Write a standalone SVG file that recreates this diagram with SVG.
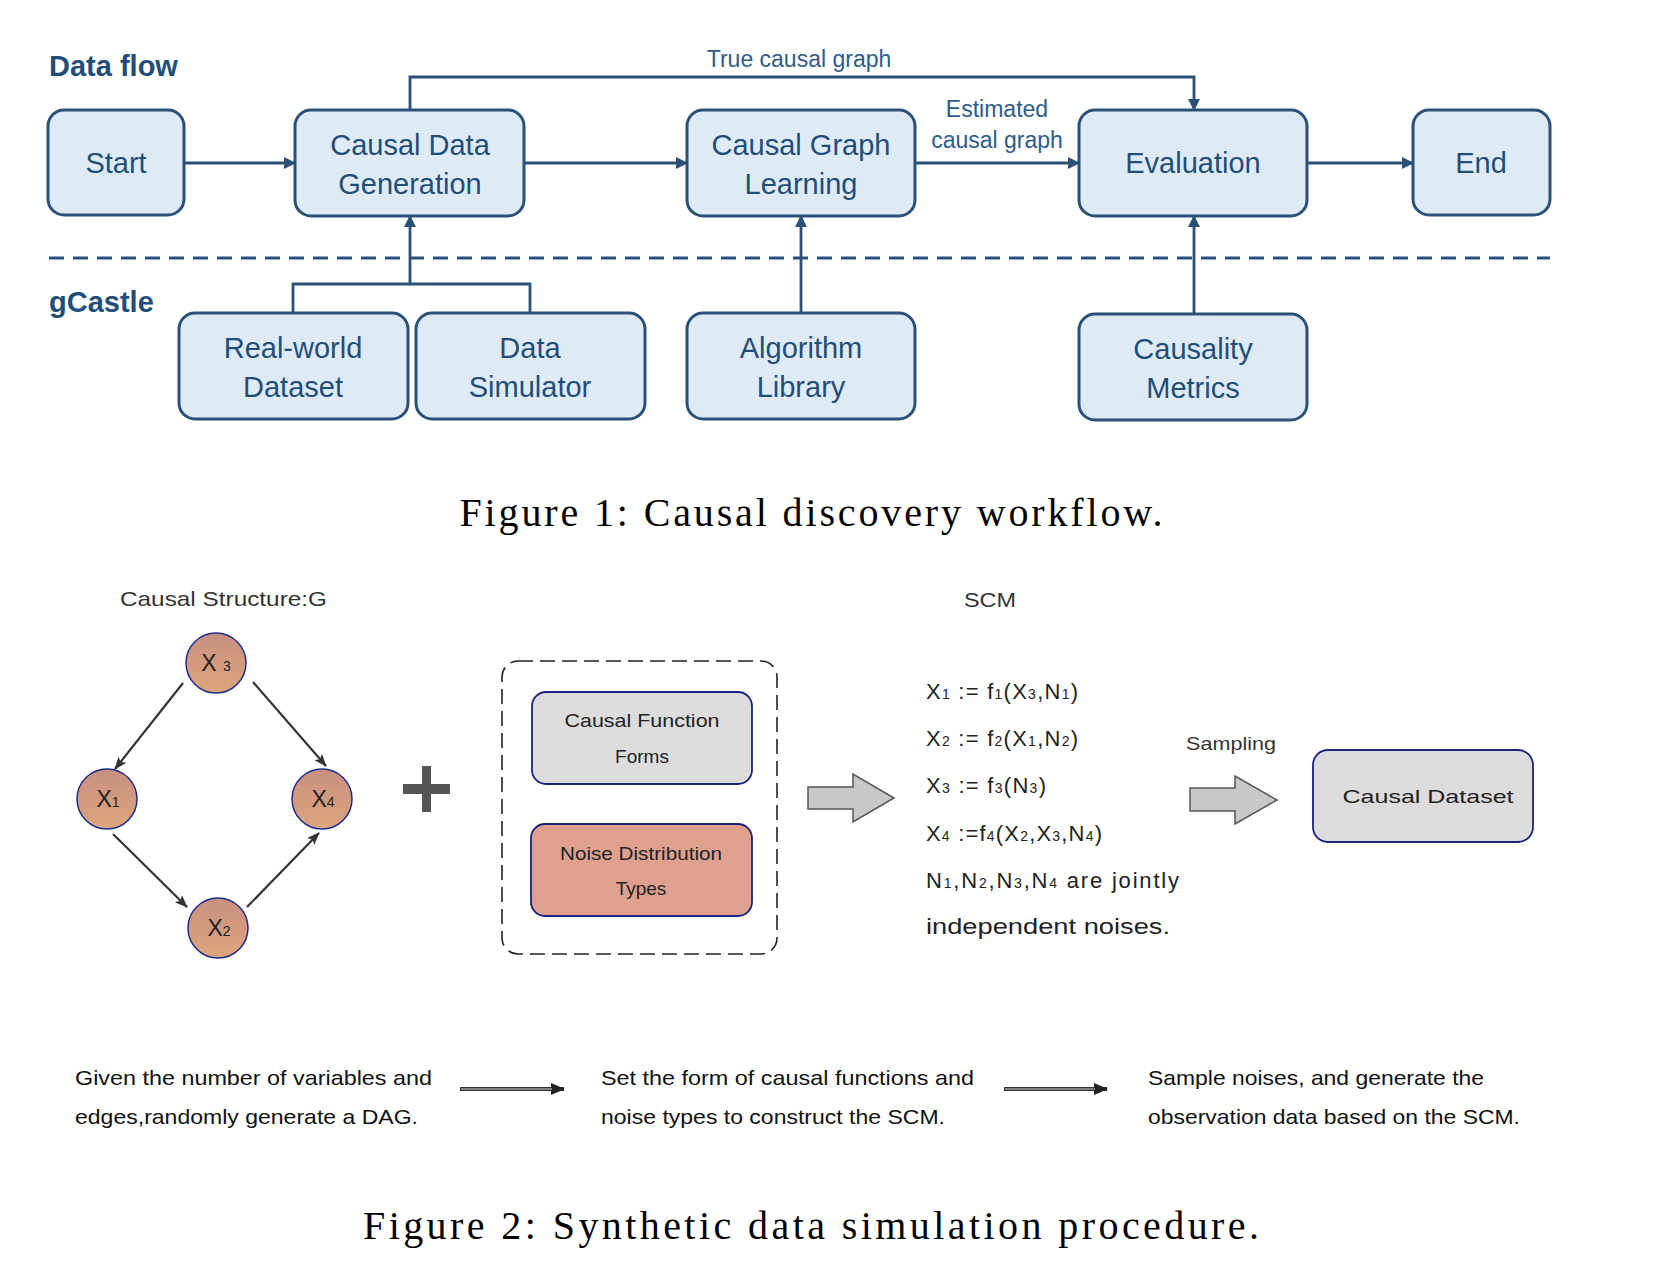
<svg xmlns="http://www.w3.org/2000/svg" width="1660" height="1284" viewBox="0 0 1660 1284">
<style>
.bg{fill:#ffffff}
.box{fill:#deebf7;stroke:#2b5179;stroke-width:3}
.bt{font-family:"Liberation Sans",Arial,sans-serif;font-size:29px;fill:#1f4e79;text-anchor:middle}
.sec{font-family:"Liberation Sans",Arial,sans-serif;font-size:29px;font-weight:bold;fill:#1f4e79}
.lbl{font-family:"Liberation Sans",Arial,sans-serif;font-size:23px;fill:#2e5c8a;text-anchor:middle}
.con{fill:none;stroke:#2b5179;stroke-width:2.8}
.dash{fill:none;stroke:#2b5179;stroke-width:3;stroke-dasharray:15 9}
.cap{font-family:"Liberation Serif","Times New Roman",serif;font-size:40px;fill:#000;text-anchor:middle}
.g2{font-family:"Liberation Sans",Arial,sans-serif;fill:#333}
.circ{fill:url(#cg);stroke:#1d2d8c;stroke-width:1.5}
.xl{font-family:"Liberation Sans",Arial,sans-serif;font-size:23px;fill:#222;text-anchor:middle}
.sub{font-size:14px}
.dagc{fill:none;stroke:#333;stroke-width:2.2}
.inbox{stroke:#1a237e;stroke-width:1.8}
.it{font-family:"Liberation Sans",Arial,sans-serif;font-size:19px;fill:#222;text-anchor:middle}
.eq{font-family:"Liberation Sans",Arial,sans-serif;font-size:22px;fill:#222}
.blk{fill:#c8c8c8;stroke:#555;stroke-width:1.5}
.desc{font-family:"Liberation Sans",Arial,sans-serif;font-size:21px;fill:#111}
.barr{fill:none;stroke:#333;stroke-width:4}
.barr2{fill:none;stroke:#999;stroke-width:1.5}
</style>
<defs>
<marker id="ah" markerUnits="userSpaceOnUse" markerWidth="12" markerHeight="12" refX="11" refY="6" orient="auto">
<path d="M0,0 L12,6 L0,12 z" fill="#2b5179"/>
</marker>
<marker id="dah" markerUnits="userSpaceOnUse" markerWidth="13" markerHeight="10" refX="12" refY="5" orient="auto">
<path d="M0,0 L13,5 L0,10 L3,5 z" fill="#333"/>
</marker>
<marker id="bah" markerUnits="userSpaceOnUse" markerWidth="14" markerHeight="12" refX="13" refY="6" orient="auto">
<path d="M0,0 L14,6 L0,12 z" fill="#222"/>
</marker>
<linearGradient id="cg" x1="0" y1="0" x2="0" y2="1">
<stop offset="0" stop-color="#c78f80"/>
<stop offset="1" stop-color="#dca67c"/>
</linearGradient>
</defs>
<rect class="bg" x="0" y="0" width="1660" height="1284"/>

<!-- Figure 1 -->
<text class="sec" x="49" y="76">Data flow</text>
<text class="sec" x="49" y="312">gCastle</text>
<line class="dash" x1="49" y1="258" x2="1550" y2="258"/>

<g id="connectors-fig1">
<line class="con" x1="184" y1="163" x2="295" y2="163" marker-end="url(#ah)"/>
<line class="con" x1="524" y1="163" x2="687" y2="163" marker-end="url(#ah)"/>
<line class="con" x1="915" y1="163" x2="1079" y2="163" marker-end="url(#ah)"/>
<line class="con" x1="1307" y1="163" x2="1413" y2="163" marker-end="url(#ah)"/>
<path class="con" d="M410,110 V77 H1194 V110" marker-end="url(#ah)"/>
<path class="con" d="M293,313 V284 H530 V313"/>
<line class="con" x1="410" y1="284" x2="410" y2="216" marker-end="url(#ah)"/>
<line class="con" x1="801" y1="313" x2="801" y2="216" marker-end="url(#ah)"/>
<line class="con" x1="1194" y1="314" x2="1194" y2="216" marker-end="url(#ah)"/>
<text class="lbl" x="799" y="67">True causal graph</text>
<text class="lbl" x="997" y="117">Estimated</text>
<text class="lbl" x="997" y="148">causal graph</text>
</g>

<g id="start"><rect class="box" x="48" y="110" width="136" height="105" rx="16"/><text class="bt" x="116" y="173">Start</text></g>
<g id="causal-data-generation"><rect class="box" x="295" y="110" width="229" height="106" rx="16"/><text class="bt" x="410" y="155">Causal Data</text><text class="bt" x="410" y="194">Generation</text></g>
<g id="causal-graph-learning"><rect class="box" x="687" y="110" width="228" height="106" rx="16"/><text class="bt" x="801" y="155">Causal Graph</text><text class="bt" x="801" y="194">Learning</text></g>
<g id="evaluation"><rect class="box" x="1079" y="110" width="228" height="106" rx="16"/><text class="bt" x="1193" y="173">Evaluation</text></g>
<g id="end"><rect class="box" x="1413" y="110" width="137" height="105" rx="16"/><text class="bt" x="1481" y="173">End</text></g>
<g id="real-world-dataset"><rect class="box" x="179" y="313" width="229" height="106" rx="16"/><text class="bt" x="293" y="358">Real-world</text><text class="bt" x="293" y="397">Dataset</text></g>
<g id="data-simulator"><rect class="box" x="416" y="313" width="229" height="106" rx="16"/><text class="bt" x="530" y="358">Data</text><text class="bt" x="530" y="397">Simulator</text></g>
<g id="algorithm-library"><rect class="box" x="687" y="313" width="228" height="106" rx="16"/><text class="bt" x="801" y="358">Algorithm</text><text class="bt" x="801" y="397">Library</text></g>
<g id="causality-metrics"><rect class="box" x="1079" y="314" width="228" height="106" rx="16"/><text class="bt" x="1193" y="359">Causality</text><text class="bt" x="1193" y="398">Metrics</text></g>

<text class="cap" x="811" y="526" textLength="703" lengthAdjust="spacing">Figure 1: Causal discovery workflow.</text>

<!-- Figure 2 -->
<text class="g2" x="120" y="606" font-size="21" textLength="207" lengthAdjust="spacingAndGlyphs">Causal Structure:G</text>
<text class="g2" x="964" y="607" font-size="21" textLength="52" lengthAdjust="spacingAndGlyphs">SCM</text>

<g id="connectors-dag">
<line class="dagc" x1="183" y1="683" x2="115" y2="769" marker-end="url(#dah)"/>
<line class="dagc" x1="253" y1="682" x2="326" y2="766" marker-end="url(#dah)"/>
<line class="dagc" x1="113" y1="834" x2="187" y2="907" marker-end="url(#dah)"/>
<line class="dagc" x1="247" y1="907" x2="319" y2="833" marker-end="url(#dah)"/>
</g>

<g id="x3"><circle class="circ" cx="216" cy="663" r="30"/><text class="xl" x="216" y="671">X <tspan class="sub">3</tspan></text></g>
<g id="x1"><circle class="circ" cx="107" cy="799" r="30"/><text class="xl" x="108" y="807">X<tspan class="sub">1</tspan></text></g>
<g id="x4"><circle class="circ" cx="322" cy="799" r="30"/><text class="xl" x="323" y="807">X<tspan class="sub">4</tspan></text></g>
<g id="x2"><circle class="circ" cx="218" cy="928" r="30"/><text class="xl" x="219" y="936">X<tspan class="sub">2</tspan></text></g>

<g id="plus"><rect x="403" y="784" width="47" height="10" fill="#555"/><rect x="422" y="766" width="9" height="46" fill="#555"/></g>

<g id="scm-inputs">
<rect x="502" y="661" width="275" height="293" rx="16" fill="none" stroke="#222" stroke-width="1.6" stroke-dasharray="15 7"/>
</g>
<g id="causal-function-forms"><rect class="inbox" x="532" y="692" width="220" height="92" rx="14" fill="#dcdcdc"/><text class="it" x="642" y="727" textLength="155" lengthAdjust="spacingAndGlyphs">Causal Function</text><text class="it" x="642" y="763">Forms</text></g>
<g id="noise-distribution-types"><rect class="inbox" x="531" y="824" width="221" height="92" rx="14" fill="#dfa08e"/><text class="it" x="641" y="860" textLength="162" lengthAdjust="spacingAndGlyphs">Noise Distribution</text><text class="it" x="641" y="895">Types</text></g>

<g id="block-arrow-1"><polygon class="blk" points="808,787 853,787 853,774 894,798 853,822 853,809 808,809"/></g>

<g id="scm-equations">
<text class="eq" x="926" y="699" textLength="152" lengthAdjust="spacing">X<tspan class="sub">1</tspan> := f<tspan class="sub">1</tspan>(X<tspan class="sub">3</tspan>,N<tspan class="sub">1</tspan>)</text>
<text class="eq" x="926" y="746" textLength="152" lengthAdjust="spacing">X<tspan class="sub">2</tspan> := f<tspan class="sub">2</tspan>(X<tspan class="sub">1</tspan>,N<tspan class="sub">2</tspan>)</text>
<text class="eq" x="926" y="793" textLength="120" lengthAdjust="spacing">X<tspan class="sub">3</tspan> := f<tspan class="sub">3</tspan>(N<tspan class="sub">3</tspan>)</text>
<text class="eq" x="926" y="841" textLength="176" lengthAdjust="spacing">X<tspan class="sub">4</tspan> :=f<tspan class="sub">4</tspan>(X<tspan class="sub">2</tspan>,X<tspan class="sub">3</tspan>,N<tspan class="sub">4</tspan>)</text>
<text class="eq" x="926" y="888" textLength="253" lengthAdjust="spacing">N<tspan class="sub">1</tspan>,N<tspan class="sub">2</tspan>,N<tspan class="sub">3</tspan>,N<tspan class="sub">4</tspan> are jointly</text>
<text class="eq" x="926" y="934" textLength="244" lengthAdjust="spacingAndGlyphs">independent noises.</text>
</g>

<text class="g2" x="1186" y="750" font-size="19" fill="#222" textLength="90" lengthAdjust="spacingAndGlyphs">Sampling</text>
<g id="block-arrow-2"><polygon class="blk" points="1190,788 1235,788 1235,776 1277,800 1235,824 1235,811 1190,811"/></g>
<g id="causal-dataset"><rect class="inbox" x="1313" y="750" width="220" height="92" rx="15" fill="#dcdcdc"/><text class="it" x="1428" y="803" font-size="22" textLength="171" lengthAdjust="spacingAndGlyphs">Causal Dataset</text></g>

<g id="step-1">
<text class="desc" x="75" y="1085" textLength="357" lengthAdjust="spacingAndGlyphs">Given the number of variables and</text>
<text class="desc" x="75" y="1124" textLength="343" lengthAdjust="spacingAndGlyphs">edges,randomly generate a DAG.</text>
</g>
<g id="step-2">
<text class="desc" x="601" y="1085" textLength="373" lengthAdjust="spacingAndGlyphs">Set the form of causal functions and</text>
<text class="desc" x="601" y="1124" textLength="344" lengthAdjust="spacingAndGlyphs">noise types to construct the SCM.</text>
</g>
<g id="step-3">
<text class="desc" x="1148" y="1085" textLength="336" lengthAdjust="spacingAndGlyphs">Sample noises, and generate the</text>
<text class="desc" x="1148" y="1124" textLength="372" lengthAdjust="spacingAndGlyphs">observation data based on the SCM.</text>
</g>
<g id="connectors-steps">
<line class="barr" x1="460" y1="1089" x2="564" y2="1089" marker-end="url(#bah)"/>
<line class="barr2" x1="461" y1="1089" x2="552" y2="1089"/>
<line class="barr" x1="1004" y1="1089" x2="1107" y2="1089" marker-end="url(#bah)"/>
<line class="barr2" x1="1005" y1="1089" x2="1095" y2="1089"/>
</g>

<text class="cap" x="811" y="1239" textLength="896" lengthAdjust="spacing">Figure 2: Synthetic data simulation procedure.</text>
</svg>
